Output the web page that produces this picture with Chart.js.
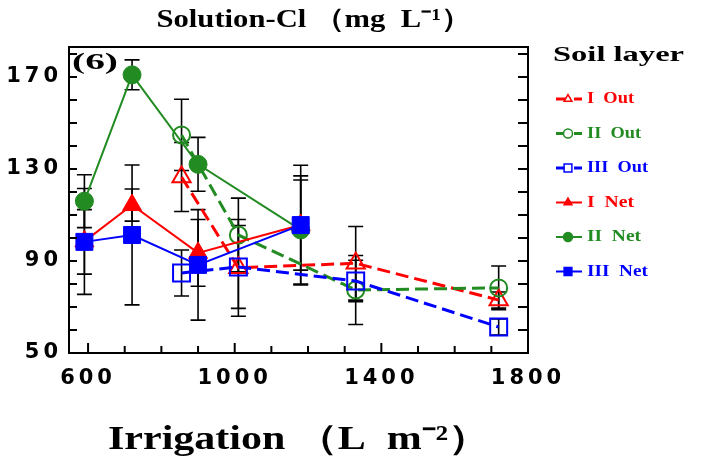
<!DOCTYPE html>
<html><head><meta charset="utf-8">
<script src="https://cdn.jsdelivr.net/npm/chart.js@4.4.1/dist/chart.umd.min.js"></script>
<style>html,body{margin:0;padding:0;background:#fff}#wrap{width:702px;height:460px;position:relative}</style>
</head><body><div id="wrap"><canvas id="c"></canvas></div>
<script>
// ---- data ----
const irrigationNet = [590, 720, 900, 1180];
const irrigationOut = [855, 1010, 1330, 1720];
const seriesLabels = ['I  Out', 'II  Out', 'III  Out', 'I  Net', 'II  Net', 'III  Net'];
const iOut    = [126.5, 87.0, 89.0, 73.0];
const iOutErr = [15, 21, 16, 3.5];
const iiOut    = [144.8, 101.3, 77.4, 78.3];
const iiOutErr = [15.5, 16, 15, 9.5];
const iiiOut    = [84.8, 87.4, 81.3, 61.3];
const iiiOutErr = [10, 18, 9, 3.5];
const iNet    = [98.5, 114.3, 93.5, 105.6];
const iNetErr = [23, 7, 14.5, 19.6];
const iiNet    = [116.0, 170.9, 132.0, 103.5];
const iiNetErr = [11.5, 6.5, 11.7, 23.5];
const iiiNet    = [98.3, 101.3, 88.3, 105.6];
const iiiNetErr = [14, 30.4, 24, 26];
const xTickLabels = [600, 1000, 1400, 1800];
const yTickLabels = [50, 90, 130, 170];
const xMinorStep = 100, yMinorStep = 10;

const RED = '#ff0000', GREEN = '#228b22', BLUE = '#0000ff';

function pts(xs, ys) { return xs.map((x, i) => ({ x: x, y: ys[i] })); }

function mk(label, xs, ys, errs, color, style, filled, dashed, order, radius) {
  return {
    label: label, data: pts(xs, ys), errors: errs,
    borderColor: color, backgroundColor: filled ? color : 'rgba(0,0,0,0)',
    pointBackgroundColor: filled ? color : 'rgba(0,0,0,0)', pointBorderColor: color,
    pointStyle: style, pointRadius: radius, pointHoverRadius: radius,
    pointBorderWidth: filled ? 1 : 2,
    borderWidth: dashed ? 3 : 2, borderDash: dashed ? [13, 6] : [],
    showLine: true, tension: 0, order: order, fill: false, filled: filled
  };
}

const datasets = [
  mk(seriesLabels[0], irrigationOut, iOut, iOutErr, RED, 'triangle', false, true, 5, 10.5),
  mk(seriesLabels[1], irrigationOut, iiOut, iiOutErr, GREEN, 'circle', false, true, 4, 8.5),
  mk(seriesLabels[2], irrigationOut, iiiOut, iiiOutErr, BLUE, 'rect', false, true, 3, 12),
  mk(seriesLabels[3], irrigationNet, iNet, iNetErr, RED, 'triangle', true, false, 2, 11),
  mk(seriesLabels[4], irrigationNet, iiNet, iiNetErr, GREEN, 'circle', true, false, 1, 9),
  mk(seriesLabels[5], irrigationNet, iiiNet, iiiNetErr, BLUE, 'rect', true, false, 0, 12)
];

function drawFit(ctx, text, font, x, y, width, color, align) {
  ctx.save();
  ctx.font = font;
  ctx.letterSpacing = '0px';
  const w = ctx.measureText(text).width;
  const s = width / w;
  ctx.translate(x, y);
  ctx.scale(s, 1);
  ctx.textAlign = align || 'center';
  ctx.textBaseline = 'middle';
  ctx.fillStyle = color || '#000';
  ctx.fillText(text, 0, 0);
  ctx.restore();
}

const spacing = {
  id: 'spacing',
  beforeDraw(chart) { chart.ctx.letterSpacing = '4px'; },
  beforeDatasetsDraw(chart) { chart.ctx.letterSpacing = '0px'; }
};

const errorBars = {
  id: 'errorBars',
  beforeDatasetsDraw(chart) {
    const ctx = chart.ctx, xs = chart.scales.x, ys = chart.scales.y;
    ctx.save();
    ctx.strokeStyle = '#000';
    ctx.lineWidth = 1.6;
    chart.data.datasets.forEach(ds => {
      ds.errors.forEach((e, i) => {
        const p = ds.data[i];
        const px = xs.getPixelForValue(p.x);
        const y1 = ys.getPixelForValue(p.y + e), y2 = ys.getPixelForValue(p.y - e);
        ctx.beginPath();
        ctx.moveTo(px, y1); ctx.lineTo(px, y2);
        ctx.moveTo(px - 7.5, y1); ctx.lineTo(px + 7.5, y1);
        ctx.moveTo(px - 7.5, y2); ctx.lineTo(px + 7.5, y2);
        ctx.stroke();
      });
    });
    ctx.restore();
  }
};

const frame = {
  id: 'frame',
  afterDraw(chart) {
    const ctx = chart.ctx, a = chart.chartArea, xs = chart.scales.x, ys = chart.scales.y;
    ctx.save();
    ctx.letterSpacing = '0px';
    ctx.strokeStyle = '#000';
    ctx.lineWidth = 2;
    ctx.strokeRect(a.left, a.top, a.right - a.left, a.bottom - a.top);
    ctx.beginPath();
    xs.ticks.forEach(t => {
      const px = xs.getPixelForValue(t.value);
      const len = xTickLabels.includes(t.value) ? 10 : 7;
      ctx.moveTo(px, a.bottom); ctx.lineTo(px, a.bottom - len);
    });
    ys.ticks.forEach(t => {
      const py = ys.getPixelForValue(t.value);
      ctx.moveTo(a.left, py); ctx.lineTo(a.left + 8, py);
      ctx.moveTo(a.right, py); ctx.lineTo(a.right - 10, py);
    });
    ctx.stroke();
    ctx.restore();

    // titles
    drawFit(ctx, 'Solution-Cl （mg  L⁻¹）', 'bold 26px "Liberation Serif"', 314, 20, 315, '#000');
    drawFit(ctx, '(6)', 'bold 24px "Liberation Serif"', 95, 63, 46, '#000');
    drawFit(ctx, 'Irrigation （L  m⁻²）', 'bold 34px "Liberation Serif"', 299, 440, 382, '#000');

    // legend
    drawFit(ctx, 'Soil layer', 'bold 22px "Liberation Serif"', 553, 55, 131, '#000', 'left');
    chart.data.datasets.forEach((ds, i) => {
      const yy = 99 + i * 34.5;
      ctx.save();
      ctx.strokeStyle = ds.borderColor;
      ctx.lineWidth = ds.borderDash.length ? 3 : 2;
      ctx.setLineDash(ds.borderDash.length ? [15, 3] : []);
      ctx.beginPath(); ctx.moveTo(556, yy); ctx.lineTo(582, yy); ctx.stroke();
      ctx.setLineDash([]);
      ctx.fillStyle = ds.filled ? ds.borderColor : '#ffffff';
      ctx.strokeStyle = ds.borderColor;
      ctx.lineWidth = 1.5;
      Chart.helpers.drawPoint(ctx, { pointStyle: ds.pointStyle, radius: ds.pointStyle === 'rect' ? 5.5 : 4.5, rotation: 0, borderWidth: 1.5 }, 568, yy);
      ctx.restore();
      const w = { 'I  Out': 47, 'II  Out': 54, 'III  Out': 61, 'I  Net': 47, 'II  Net': 54, 'III  Net': 61 }[ds.label];
      drawFit(ctx, ds.label, 'bold 16px "Liberation Serif"', 587, yy, w, ds.borderColor, 'left');
    });
  }
};

new Chart(document.getElementById('c'), {
  type: 'line',
  data: { datasets: datasets },
  options: {
    responsive: true, maintainAspectRatio: false, animation: false,
    devicePixelRatio: 1,
    layout: { padding: { top: 47, right: 174, left: 0, bottom: 0 } },
    plugins: { legend: { display: false }, title: { display: false }, tooltip: { enabled: false } },
    events: [],
    scales: {
      x: {
        type: 'linear', min: 548, max: 1800,
        grid: { display: false, drawTicks: false }, border: { display: false },
        afterBuildTicks(s) {
          const t = [];
          for (let v = xTickLabels[0]; v <= s.max; v += xMinorStep) t.push({ value: v });
          s.ticks = t;
        },
        afterFit(s) { s.height = 107; },
        ticks: {
          autoSkip: false, maxRotation: 0, padding: 13, color: '#000',
          font: { family: '"DejaVu Sans"', weight: 'bold', size: 21 },
          callback: v => xTickLabels.includes(v) ? String(v) : ''
        }
      },
      y: {
        type: 'linear', min: 50, max: 183,
        grid: { display: false, drawTicks: false }, border: { display: false },
        afterBuildTicks(s) {
          const t = [];
          for (let v = yTickLabels[0]; v <= s.max; v += yMinorStep) t.push({ value: v });
          s.ticks = t;
        },
        afterFit(s) { s.width = 69; },
        ticks: {
          autoSkip: false, padding: 7, color: '#000',
          font: { family: '"DejaVu Sans"', weight: 'bold', size: 21 },
          callback: v => yTickLabels.includes(v) ? String(v) : ''
        }
      }
    }
  },
  plugins: [spacing, errorBars, frame]
});
</script></body></html>
